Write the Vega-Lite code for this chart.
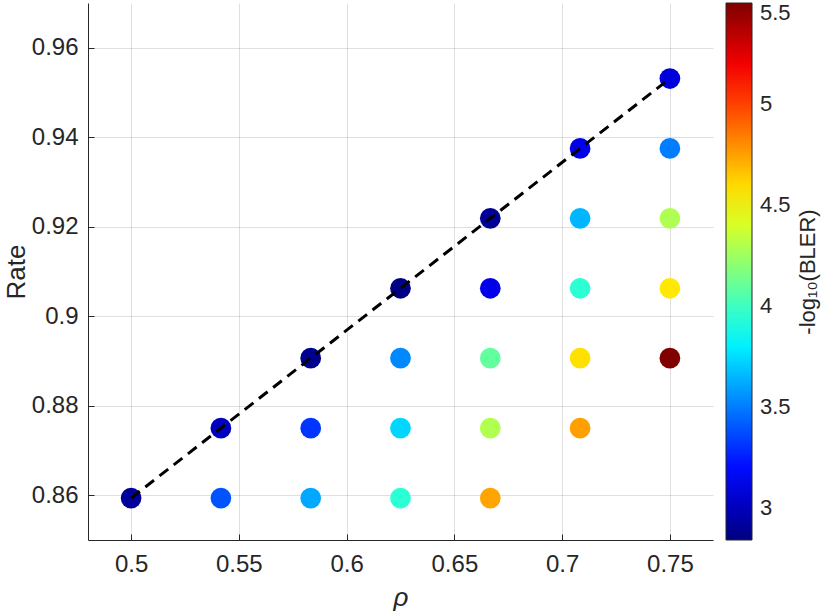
{
  "$schema": "https://vega.github.io/schema/vega-lite/v6.json",
  "autosize": {"type": "none"},
  "padding": {"left": 88, "top": 3, "right": 117, "bottom": 72},
  "width": 625,
  "height": 537,
  "background": "white",
  "config": {
    "view": {"stroke": null},
    "font": "Liberation Sans",
    "axis": {
      "labelFont": "Liberation Sans",
      "titleFont": "Liberation Sans",
      "labelColor": "#262626",
      "titleColor": "#262626",
      "domainColor": "#262626",
      "tickColor": "#262626",
      "gridColor": "#262626",
      "gridOpacity": 0.15,
      "labelFontSize": 24,
      "titleFontSize": 26,
      "titleFontWeight": "normal"
    },
    "legend": {
      "labelFont": "Liberation Sans",
      "titleFont": "Liberation Sans"
    }
  },
  "resolve": {"axis": {"y": "independent"}},
  "datasets": {
    "pts": [
      {"rho": 0.5, "rate": 0.859375, "v": 2.91},
      {"rho": 0.541667, "rate": 0.859375, "v": 3.39},
      {"rho": 0.541667, "rate": 0.875, "v": 3.01},
      {"rho": 0.583333, "rate": 0.859375, "v": 3.61},
      {"rho": 0.583333, "rate": 0.875, "v": 3.31},
      {"rho": 0.583333, "rate": 0.890625, "v": 2.88},
      {"rho": 0.625, "rate": 0.859375, "v": 3.95},
      {"rho": 0.625, "rate": 0.875, "v": 3.73},
      {"rho": 0.625, "rate": 0.890625, "v": 3.53},
      {"rho": 0.625, "rate": 0.90625, "v": 2.85},
      {"rho": 0.666667, "rate": 0.859375, "v": 4.74},
      {"rho": 0.666667, "rate": 0.875, "v": 4.3},
      {"rho": 0.666667, "rate": 0.890625, "v": 4.09},
      {"rho": 0.666667, "rate": 0.90625, "v": 3.12},
      {"rho": 0.666667, "rate": 0.921875, "v": 2.9},
      {"rho": 0.708333, "rate": 0.875, "v": 4.75},
      {"rho": 0.708333, "rate": 0.890625, "v": 4.58},
      {"rho": 0.708333, "rate": 0.90625, "v": 3.95},
      {"rho": 0.708333, "rate": 0.921875, "v": 3.65},
      {"rho": 0.708333, "rate": 0.9375, "v": 3.12},
      {"rho": 0.75, "rate": 0.890625, "v": 5.5},
      {"rho": 0.75, "rate": 0.90625, "v": 4.56},
      {"rho": 0.75, "rate": 0.921875, "v": 4.29},
      {"rho": 0.75, "rate": 0.9375, "v": 3.5},
      {"rho": 0.75, "rate": 0.953125, "v": 3.08}
    ],
    "diag": [
      {"rho": 0.5, "rate": 0.859375},
      {"rho": 0.75, "rate": 0.953125}
    ]
  },
  "layer": [
    {
      "data": {"name": "pts"},
      "mark": {"type": "circle", "opacity": 1, "size": 430},
      "encoding": {
        "x": {
          "field": "rho", "type": "quantitative",
          "scale": {"domain": [0.48, 0.77], "nice": false, "zero": false},
          "axis": {
            "title": "ρ",
            "titleFontStyle": "italic",
            "values": [0.5, 0.55, 0.6, 0.65, 0.7, 0.75],
            "labelExpr": "format(datum.value, '.2~f')",
            "tickSize": -6,
            "labelPadding": 18,
            "titlePadding": 8
          }
        },
        "y": {
          "field": "rate", "type": "quantitative",
          "scale": {"domain": [0.85, 0.97], "nice": false, "zero": false},
          "axis": {
            "title": "Rate",
            "values": [0.86, 0.88, 0.9, 0.92, 0.94, 0.96],
            "labelExpr": "format(datum.value, '.2~f')",
            "tickSize": -6,
            "labelPadding": 16,
            "titlePadding": 2
          }
        },
        "color": {
          "field": "v", "type": "quantitative",
          "scale": {
            "domain": [2.84, 3.1725, 3.8375, 4.5025, 5.1675, 5.5],
            "range": ["#000080", "#0000ff", "#00ffff", "#ffff00", "#ff0000", "#800000"],
            "interpolate": "rgb"
          },
          "legend": {
            "title": null,
            "orient": "none",
            "legendX": 638,
            "legendY": 0,
            "values": [3, 3.5, 4, 4.5, 5, 5.5],
            "labelExpr": "format(datum.value, '.1~f')",
            "gradientLength": 537,
            "gradientThickness": 26,
            "gradientStrokeColor": "#262626",
            "gradientStrokeWidth": 1,
            "labelFontSize": 22,
            "labelColor": "#262626",
            "labelOffset": 8,
            "labelOverlap": false,
            "padding": 0
          }
        }
      }
    },
    {
      "data": {"name": "diag"},
      "mark": {"type": "line", "color": "black", "strokeWidth": 3, "strokeDash": [11, 7]},
      "encoding": {
        "x": {"field": "rho", "type": "quantitative"},
        "y": {
          "field": "rate", "type": "quantitative",
          "axis": {
            "orient": "right",
            "title": "-log₁₀(BLER)",
            "titleFontSize": 22,
            "titleAngle": 270,
            "titleBaseline": "top",
            "titlePadding": 84,
            "labels": false,
            "ticks": false,
            "domain": false,
            "grid": false
          }
        }
      }
    }
  ]
}
